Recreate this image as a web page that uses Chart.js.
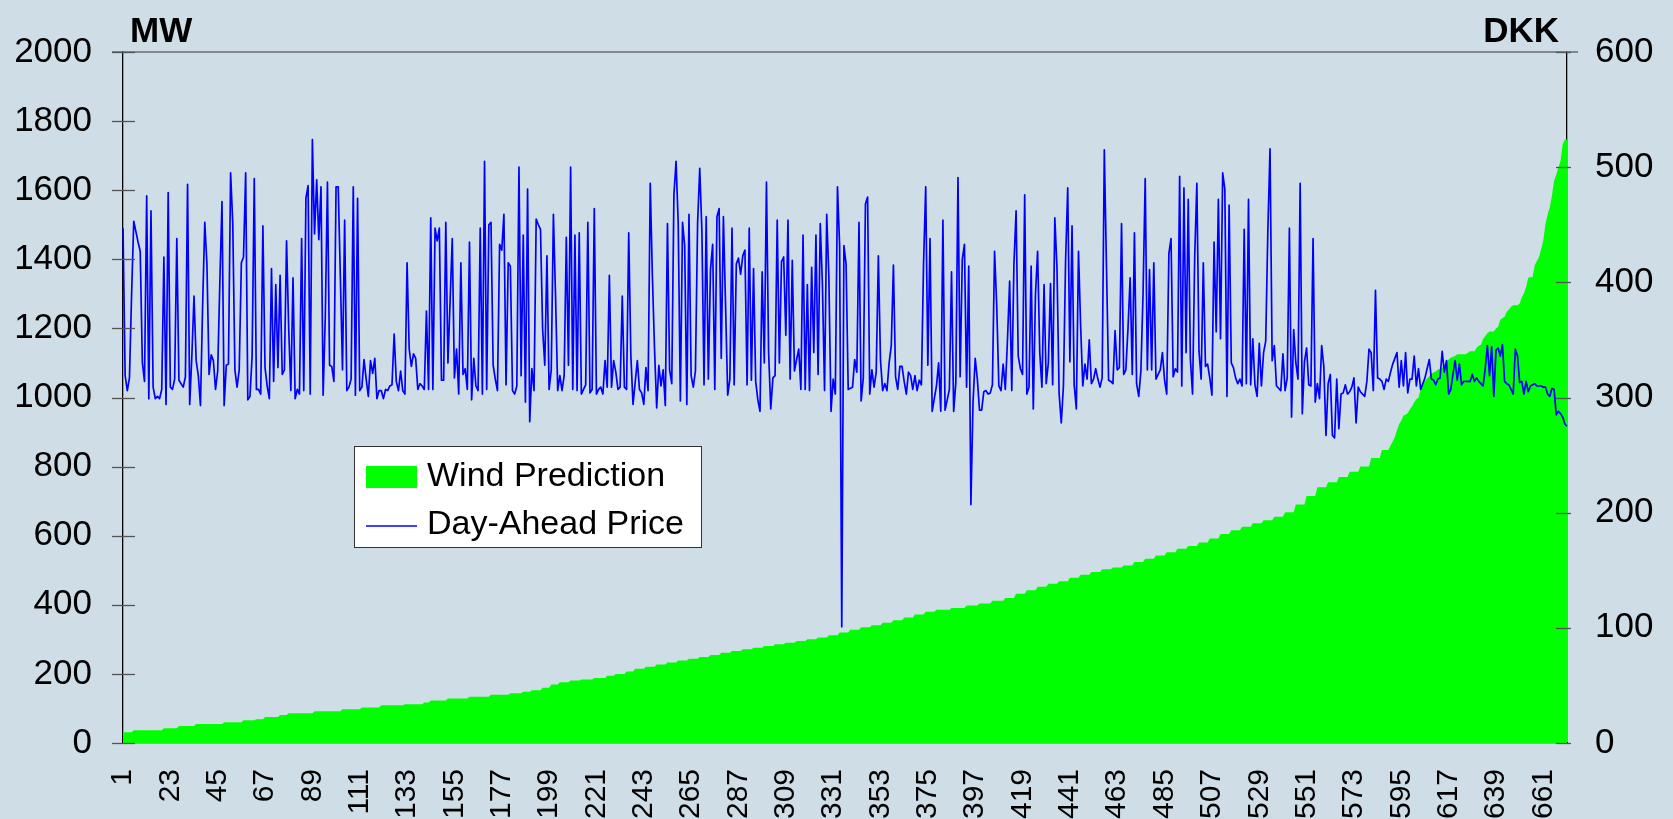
<!DOCTYPE html>
<html>
<head>
<meta charset="utf-8">
<script src="https://cdn.jsdelivr.net/npm/chart.js@4.4.0/dist/chart.umd.min.js"></script>
<style>
  html, body { margin: 0; padding: 0; background: #cfdde6; }
  #wrap { width: 1673px; height: 819px; }
</style>
</head>
<body>
<div id="wrap"><canvas id="chart" width="1673" height="819"></canvas></div>
<script>
/* --------------- Data: 672 hours, sorted by wind prediction --------------- */
const hours = [];
for (let h = 1; h <= 672; h++) hours.push(String(h));

const tickLabels = ["1", "23", "45", "67", "89", "111", "133", "155", "177", "199", "221", "243",
  "265", "287", "309", "331", "353", "375", "397", "419", "441", "463", "485", "507", "529",
  "551", "573", "595", "617", "639", "661"];

// Wind Prediction, MW (left axis)
const windPrediction = [
  31, 31, 31, 31, 31,
  37, 37, 37, 37, 37, 37, 37, 37, 37, 37, 37, 37, 37, 37,
  43, 43, 43, 43, 43, 43, 43,
  49, 49, 49, 49, 49, 49, 49, 49,
  55, 55, 55, 55, 55, 55, 55, 55, 55, 55, 55, 55, 55,
  60, 60, 60, 60, 60, 60, 60, 60, 60,
  66, 66, 66, 66, 66, 66,
  69, 69, 69, 69,
  75, 75, 75, 75, 75, 75, 75,
  81, 81, 81, 81,
  86, 86, 86, 86, 86, 86, 86, 86, 86, 86, 86, 86,
  92, 92, 92, 92, 92, 92, 92, 92, 92, 92, 92, 92, 92,
  98, 98, 98, 98, 98, 98, 98, 98, 98,
  103, 103, 103, 103, 103, 103, 103, 103, 103,
  109, 109, 109, 109, 109, 109, 109, 109, 109, 109, 109,
  112, 112, 112, 112, 112, 112, 112, 112, 112,
  117, 117, 117,
  123, 123, 123, 123, 123, 123, 123, 123,
  129, 129, 129, 129, 129, 129, 129, 129, 129, 129,
  134, 134, 134, 134, 134, 134, 134, 134, 134, 134,
  140, 140, 140, 140, 140, 140, 140, 140, 140,
  144, 144, 144, 144, 144, 144,
  148, 148, 148, 148,
  153, 153, 153, 153, 153,
  160, 160, 160, 160,
  169, 169, 169, 169,
  176, 176, 176, 176, 176,
  181, 181, 181, 181, 181,
  184, 184, 184, 184, 184, 184,
  188, 188, 188, 188, 188, 188,
  195, 195, 195, 195,
  200, 200, 200, 200, 200,
  207, 207, 207, 207,
  215, 215, 215, 215, 215,
  221, 221, 221, 221, 221,
  227, 227, 227, 227, 227,
  233, 233, 233, 233, 233,
  239, 239, 239, 239, 239,
  244, 244, 244, 244, 244,
  249, 249, 249, 249, 249,
  255, 255, 255, 255, 255,
  261, 261, 261, 261, 261,
  266, 266, 266, 266, 266,
  271, 271, 271, 271, 271,
  276, 276, 276, 276, 276,
  281, 281, 281, 281, 281,
  286, 286, 286, 286, 286,
  290, 290, 290, 290, 290,
  295, 295, 295, 295, 295,
  300, 300, 300, 300, 300,
  305, 305, 305, 305, 305,
  312, 312, 312, 312, 312,
  320, 320, 320, 320, 320,
  328, 328, 328, 328, 328,
  335, 335, 335, 335, 335,
  341, 341, 341, 341, 341,
  348, 348, 348, 348, 348,
  355, 355, 355, 355, 355,
  363, 363, 363, 363, 363,
  372, 372, 372, 372, 372,
  380, 380, 380, 380, 380,
  386, 386, 386, 386, 386, 386, 386,
  391, 391, 391, 391, 391, 391, 391,
  398, 398, 398, 398, 398, 398,
  404, 404, 404, 404, 404, 404,
  412, 412, 412, 412, 412, 412,
  420, 420, 420, 420, 420,
  432, 432, 432, 432, 432,
  442, 442, 442, 442, 442,
  452, 452, 452, 452, 452,
  461, 461, 461, 461, 461,
  468, 468, 468, 468, 468,
  478, 478, 478, 478, 478,
  487, 487, 487, 487, 487,
  495, 495, 495, 495, 495,
  503, 503, 503, 503, 503,
  508, 508, 508, 508, 508,
  514, 514, 514, 514, 514,
  524, 524, 524, 524, 524,
  533, 533, 533, 533, 533,
  543, 543, 543, 543, 543,
  552, 552, 552, 552, 552,
  562, 562, 562, 562, 562,
  570, 570, 570, 570, 570,
  580, 580, 580, 580, 580,
  592, 592, 592, 592, 592,
  605, 605, 605, 605, 605,
  616, 616, 616, 616, 616,
  626, 626, 626, 626, 626,
  636, 636, 636, 636, 636,
  645, 645, 645, 645, 645,
  655, 655, 655, 655, 655,
  668, 668, 668, 668, 668,
  690, 690, 690, 690, 690,
  715, 715, 715, 715, 715,
  740, 740, 740, 740, 740,
  755, 755, 755, 755, 755,
  770, 770, 770, 770, 770,
  785, 785, 785, 785, 785,
  800, 800, 800, 800, 800,
  825, 825, 825, 825, 825,
  848, 848, 848, 848,
  861, 873, 885, 905, 923, 933, 948, 950, 955, 966,
  975, 986, 995, 1000, 1024, 1043, 1048, 1055, 1062, 1068,
  1072, 1076, 1081, 1083, 1086, 1095, 1105, 1110, 1115, 1118,
  1120, 1125, 1125, 1125, 1125, 1125, 1130, 1134, 1134, 1134,
  1144, 1150, 1153, 1169, 1178, 1186, 1191, 1191, 1191, 1200,
  1205, 1225, 1230, 1234, 1248, 1255, 1263, 1267, 1267, 1267,
  1272, 1290, 1301, 1320, 1347, 1348, 1349, 1383, 1395, 1407,
  1430, 1455, 1503, 1530, 1551, 1584, 1627, 1645, 1665, 1685,
  1733, 1747, 1747
];

// Day-Ahead Price, DKK (right axis)
const dayAheadPrice = [
  447, 319, 306, 317, 390, 453, 444, 435, 427, 330,
  314, 475, 299, 462, 309, 299, 301, 299, 307, 422,
  294, 478, 309, 307, 316, 438, 315, 312, 309, 318,
  485, 294, 336, 388, 332, 319, 293, 380, 452, 416,
  320, 337, 332, 307, 323, 400, 470, 293, 328, 329,
  495, 452, 324, 309, 324, 417, 422, 495, 298, 301,
  336, 490, 307, 307, 303, 449, 326, 310, 299, 412,
  314, 398, 326, 406, 320, 324, 436, 360, 306, 404,
  299, 307, 303, 438, 306, 473, 484, 303, 524, 442,
  489, 437, 483, 302, 370, 487, 328, 327, 314, 483,
  483, 405, 324, 454, 306, 309, 316, 483, 302, 473,
  306, 309, 333, 316, 301, 332, 321, 334, 299, 306,
  306, 299, 307, 306, 310, 311, 355, 314, 306, 323,
  306, 303, 417, 342, 327, 338, 334, 307, 312, 310,
  307, 375, 307, 456, 307, 447, 436, 447, 315, 315,
  452, 330, 384, 438, 317, 342, 303, 417, 320, 325,
  307, 435, 298, 334, 310, 306, 447, 303, 505, 307,
  450, 452, 328, 316, 306, 433, 428, 459, 311, 417,
  414, 306, 303, 310, 500, 319, 441, 296, 481, 279,
  325, 306, 455, 450, 446, 359, 328, 423, 307, 324,
  459, 388, 306, 319, 306, 319, 439, 328, 500, 307,
  441, 306, 443, 303, 307, 311, 452, 304, 307, 464,
  303, 307, 309, 303, 332, 309, 406, 309, 332, 322,
  307, 309, 388, 309, 307, 443, 336, 294, 313, 332,
  307, 304, 294, 326, 306, 486, 405, 342, 291, 328,
  310, 324, 293, 451, 324, 312, 476, 505, 451, 297,
  452, 432, 294, 459, 319, 309, 323, 451, 499, 445,
  311, 457, 316, 411, 433, 307, 457, 464, 334, 457,
  380, 302, 316, 447, 311, 416, 421, 407, 423, 428,
  311, 447, 315, 412, 314, 298, 288, 409, 330, 487,
  339, 290, 317, 319, 454, 330, 418, 422, 354, 454,
  316, 419, 323, 333, 342, 307, 441, 307, 398, 306,
  413, 339, 441, 320, 451, 399, 306, 459, 405, 288,
  316, 303, 483, 432, 101, 432, 416, 307, 308, 309,
  333, 322, 452, 297, 317, 468, 474, 303, 324, 309,
  322, 423, 332, 306, 312, 306, 330, 345, 415, 318,
  307, 327, 327, 314, 303, 322, 319, 307, 319, 306,
  315, 311, 416, 483, 328, 438, 288, 299, 310, 330,
  288, 454, 289, 298, 307, 409, 288, 313, 491, 318,
  420, 433, 309, 414, 207, 296, 334, 316, 289, 289,
  305, 306, 303, 304, 311, 427, 380, 310, 306, 329,
  307, 350, 401, 306, 416, 462, 336, 325, 320, 476,
  303, 309, 414, 290, 389, 427, 339, 309, 398, 312,
  330, 399, 311, 456, 413, 303, 278, 310, 419, 482,
  331, 449, 311, 290, 427, 362, 310, 329, 316, 350,
  312, 316, 325, 316, 309, 317, 515, 414, 315, 314,
  312, 358, 324, 326, 451, 320, 324, 360, 404, 320,
  443, 312, 301, 323, 390, 490, 324, 411, 324, 417,
  316, 320, 324, 339, 315, 303, 425, 438, 318, 325,
  322, 492, 310, 482, 339, 472, 333, 303, 422, 486,
  340, 316, 417, 327, 329, 317, 302, 435, 357, 472,
  351, 495, 481, 301, 467, 330, 326, 317, 312, 316,
  310, 446, 312, 472, 311, 351, 311, 301, 347, 310,
  339, 349, 446, 516, 332, 345, 310, 308, 306, 338,
  306, 317, 447, 283, 359, 330, 316, 486, 286, 331,
  343, 311, 310, 438, 296, 312, 299, 345, 327, 267,
  312, 320, 267, 265, 316, 273, 303, 304, 311, 303,
  305, 309, 317, 278, 309, 305, 303, 301, 314, 342,
  339, 306, 393, 317, 316, 314, 307, 316, 314, 322,
  329, 334, 339, 309, 332, 310, 339, 304, 316, 316,
  336, 310, 325, 307, 312, 317, 325, 333, 316, 315,
  311, 316, 317, 340, 322, 332, 303, 307, 320, 332,
  315, 329, 311, 314, 314, 314, 314, 320, 314, 317,
  314, 312, 310, 325, 345, 319, 344, 301, 341, 343,
  336, 346, 314, 312, 311, 307, 303, 342, 336, 313,
  314, 303, 314, 305, 310, 311, 312, 310, 310, 310,
  309, 309, 303, 301, 308, 307, 285, 288, 286, 283,
  277, 275
];

const seriesNames = ["Wind Prediction", "Day-Ahead Price"];
const axisTitles = ["MW", "DKK"];

/* --------------- Colours and fonts --------------- */
const bgColor = "#cfdde6";
const green = "#00ff00";
const blue = "#0000ff";
const fontFamily = "'Liberation Sans', Arial, Helvetica, sans-serif";

/* --------------- Plugins: background, frame, axis titles, legend --------------- */
const backgroundPlugin = {
  id: "background",
  beforeDraw(chart) {
    const ctx = chart.ctx;
    ctx.save();
    ctx.fillStyle = bgColor;
    ctx.fillRect(0, 0, chart.width, chart.height);
    ctx.restore();
  },
};

const overlayPlugin = {
  id: "overlay",
  afterDraw(chart) {
    const ctx = chart.ctx;
    const area = chart.chartArea;
    const yL = chart.scales.y;
    const yR = chart.scales.y1;
    ctx.save();

    // top frame line
    ctx.strokeStyle = "#6b6b6b";
    ctx.lineWidth = 1.5;
    ctx.beginPath();
    ctx.moveTo(area.left - 11, area.top);
    ctx.lineTo(area.right + 11, area.top);
    ctx.stroke();

    // tick marks crossing the axes
    ctx.strokeStyle = "#555";
    ctx.lineWidth = 1.3;
    yL.ticks.forEach((t) => {
      const py = Math.round(yL.getPixelForValue(t.value)) + 0.5;
      ctx.beginPath();
      ctx.moveTo(area.left - 11, py);
      ctx.lineTo(area.left + 12, py);
      ctx.stroke();
    });
    yR.ticks.forEach((t) => {
      const py = Math.round(yR.getPixelForValue(t.value)) + 0.5;
      ctx.beginPath();
      ctx.moveTo(area.right - 11, py);
      ctx.lineTo(area.right + 4, py);
      ctx.stroke();
    });

    // axis titles
    ctx.fillStyle = "#000";
    ctx.font = "bold 35px " + fontFamily;
    ctx.textBaseline = "alphabetic";
    ctx.textAlign = "left";
    ctx.fillText(axisTitles[0], area.left + 7, 42);
    ctx.textAlign = "right";
    ctx.fillText(axisTitles[1], area.right - 8, 42);

    // legend box
    const lx = 354.5, ly = 446.5, lw = 347, lh = 101;
    ctx.fillStyle = "#ffffff";
    ctx.fillRect(lx, ly, lw, lh);
    ctx.strokeStyle = "#333";
    ctx.lineWidth = 1;
    ctx.strokeRect(lx, ly, lw, lh);

    ctx.fillStyle = green;
    ctx.fillRect(366, 466, 51, 22);
    ctx.strokeStyle = blue;
    ctx.lineWidth = 1.7;
    ctx.beginPath();
    ctx.moveTo(366, 526);
    ctx.lineTo(417, 526);
    ctx.stroke();

    ctx.fillStyle = "#000";
    ctx.font = "34px " + fontFamily;
    ctx.textAlign = "left";
    ctx.fillText(seriesNames[0], 427, 486);
    ctx.fillText(seriesNames[1], 427, 534);

    ctx.restore();
  },
};

/* --------------- Chart --------------- */
const plainNumber = (value) => String(value);

const chart = new Chart(document.getElementById("chart"), {
  type: "line",
  plugins: [backgroundPlugin, overlayPlugin],
  data: {
    labels: hours,
    datasets: [
      {
        label: seriesNames[1],
        data: dayAheadPrice,
        yAxisID: "y1",
        borderColor: blue,
        borderWidth: 1.7,
        borderJoinStyle: "round",
        pointRadius: 0,
        tension: 0,
        fill: false,
        order: 1,
      },
      {
        label: seriesNames[0],
        data: windPrediction,
        yAxisID: "y",
        borderColor: green,
        backgroundColor: green,
        borderWidth: 0,
        pointRadius: 0,
        tension: 0,
        fill: "origin",
        order: 2,
      },
    ],
  },
  options: {
    responsive: false,
    animation: false,
    layout: { padding: { top: 47, left: 0, right: 0, bottom: 0 } },
    plugins: {
      legend: { display: false },
      tooltip: { enabled: false },
    },
    scales: {
      x: {
        type: "category",
        offset: false,
        grid: { display: false, drawTicks: false },
        border: { display: true, color: "#000", width: 1.3 },
        ticks: {
          autoSkip: false,
          minRotation: 90,
          maxRotation: 90,
          padding: 26,
          color: "#000",
          font: { family: fontFamily, size: 30 },
          callback: function (value) {
            const lab = this.getLabelForValue(value);
            return tickLabels.includes(lab) ? lab : null;
          },
        },
        afterFit: (scale) => { scale.height = 76; },
      },
      y: {
        position: "left",
        min: 0,
        max: 2000,
        grid: { display: false, drawTicks: false },
        border: { display: true, color: "#000", width: 1.3 },
        ticks: {
          stepSize: 200,
          padding: 31,
          color: "#000",
          font: { family: fontFamily, size: 35 },
          callback: plainNumber,
        },
        afterFit: (scale) => { scale.width = 123; },
      },
      y1: {
        position: "right",
        min: 0,
        max: 600,
        grid: { display: false, drawTicks: false },
        border: { display: true, color: "#000", width: 1.3 },
        ticks: {
          stepSize: 100,
          padding: 28,
          color: "#000",
          font: { family: fontFamily, size: 35 },
          callback: plainNumber,
        },
        afterFit: (scale) => { scale.width = 106; },
      },
    },
  },
});
</script>
</body>
</html>
